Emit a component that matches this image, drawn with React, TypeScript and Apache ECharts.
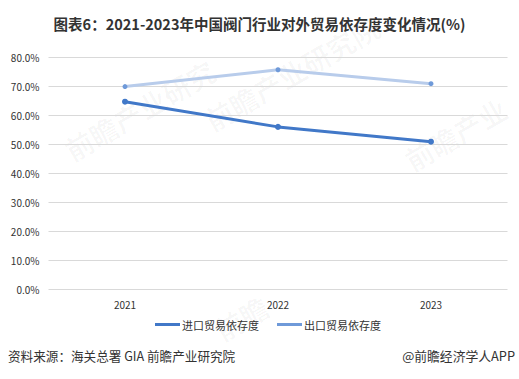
import React, { useEffect, useRef } from "react";
import * as echarts from "echarts";

const categories = ["2021", "2022", "2023"];
const importDep = [64.6, 55.9, 50.8];
const exportDep = [69.8, 75.6, 70.8];
const seriesNames = ["进口贸易依存度", "出口贸易依存度"];
const titleText = "图表6：2021-2023年中国阀门行业对外贸易依存度变化情况(%)";
const sourceText = "资料来源：海关总署 GIA 前瞻产业研究院";
const brandText = "@前瞻经济学人APP";

export default function App() {
  const ref = useRef<HTMLDivElement>(null);
  useEffect(() => {
    if (!ref.current) return;
    const chart = echarts.init(ref.current, null, { renderer: "svg" });
    const font = "'Microsoft YaHei', 'Noto Sans CJK SC', sans-serif";
    chart.setOption({
      animation: false,
      backgroundColor: "#ffffff",
      title: {
        text: titleText,
        left: "center",
        top: 11,
        textStyle: { fontSize: 14.5, fontWeight: "bold", color: "#333333", fontFamily: font },
      },
      grid: { left: 48.5, right: 11.5, top: 57, bottom: 90, containLabel: false },
      legend: {
        bottom: 44,
        left: 150,
        itemWidth: 25,
        itemHeight: 3,
        itemGap: 18,
        textStyle: { fontSize: 11, color: "#333333", fontFamily: font, padding: [0, 0, 0, -3] },
        data: [
          { name: seriesNames[0], icon: "path://M0,0 L25,0 L25,3 L0,3 Z" },
          { name: seriesNames[1], icon: "path://M0,0 L25,0 L25,3 L0,3 Z" },
        ],
      },
      xAxis: {
        type: "category",
        data: categories,
        boundaryGap: true,
        axisLine: { show: false },
        axisTick: { show: false },
        axisLabel: { fontSize: 10, color: "#333333", margin: 10, fontFamily: font },
      },
      yAxis: {
        type: "value",
        min: 0,
        max: 80,
        interval: 10,
        axisLine: { show: false },
        axisTick: { show: false },
        splitLine: { lineStyle: { color: "#d9d9d9", width: 1 } },
        axisLabel: {
          fontSize: 10,
          color: "#333333",
          margin: 9,
          fontFamily: font,
          formatter: (v: number) => v.toFixed(1) + "%",
        },
      },
      series: [
        {
          name: seriesNames[0],
          type: "line",
          data: importDep,
          symbol: "circle",
          symbolSize: 6,
          lineStyle: { width: 3, color: "#4178c8" },
          itemStyle: { color: "#4178c8" },
        },
        {
          name: seriesNames[1],
          type: "line",
          data: exportDep,
          symbol: "circle",
          symbolSize: 5,
          lineStyle: { width: 3, color: "#b8cceb" },
          itemStyle: { color: "#6f9ad9" },
        },
      ],
      graphic: [
        {
          type: "text",
          left: 8,
          top: 349,
          style: { text: sourceText, fontSize: 12.6, fill: "#333333", fontFamily: font },
        },
        {
          type: "text",
          right: 4,
          top: 349,
          style: { text: brandText, fontSize: 12.8, fill: "#333333", fontFamily: font },
        },
        {
          type: "text",
          x: 60,
          y: 140,
          rotation: Math.PI / 6,
          style: { text: "前瞻产业研究", fontSize: 28, fontWeight: "bold", fill: "rgba(0,0,0,0.03)", fontFamily: font },
        },
        {
          type: "text",
          x: 200,
          y: 110,
          rotation: Math.PI / 6,
          style: { text: "前瞻产业研究院", fontSize: 28, fontWeight: "bold", fill: "rgba(0,0,0,0.03)", fontFamily: font },
        },
        {
          type: "text",
          x: 400,
          y: 150,
          rotation: Math.PI / 6,
          style: { text: "前瞻产业", fontSize: 28, fontWeight: "bold", fill: "rgba(0,0,0,0.03)", fontFamily: font },
        },
        {
          type: "text",
          x: 210,
          y: 320,
          rotation: Math.PI / 6,
          style: { text: "前瞻", fontSize: 28, fontWeight: "bold", fill: "rgba(0,0,0,0.03)", fontFamily: font },
        },
      ],
    });
    return () => chart.dispose();
  }, []);
  return <div ref={ref} style={{ width: 519, height: 379, position: "absolute", left: 0, top: 0 }} />;
}
